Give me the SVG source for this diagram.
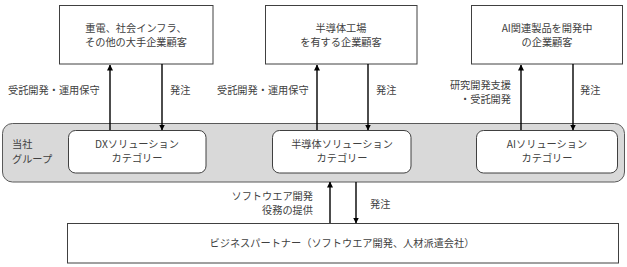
<svg xmlns="http://www.w3.org/2000/svg" width="627" height="267" viewBox="0 0 627 267">
<defs>
<style>
.t{font-family:"Noto Sans CJK JP","Liberation Sans",sans-serif;font-size:10.2px;fill:#404040}
.c{text-anchor:middle}
.e{text-anchor:end}
.box{fill:#fff;stroke:#404040;stroke-width:1}
.cat{fill:#fff;stroke:#404040;stroke-width:1}
.grp{fill:#d9d9d9;stroke:#595959;stroke-width:1}
.ln{stroke:#000;stroke-width:1.4;fill:none;marker-end:url(#ah)}
</style>
<marker id="ah" markerUnits="userSpaceOnUse" markerWidth="6" markerHeight="6" refX="5.5" refY="3" orient="auto">
<path d="M0,0 L6,3 L0,6 Z" fill="#000"/>
</marker>
</defs>
<rect width="627" height="267" fill="#fff"/>
<g id="group">
<rect class="grp" x="2.5" y="123.5" width="622" height="58.5" rx="10"/>
<text class="t" x="12" y="148">当社</text>
<text class="t" x="12" y="163">グループ</text>
</g>
<g id="cust1">
<rect class="box" x="59.5" y="5.5" width="153.5" height="58.5"/>
<text class="t c" x="136" y="32">重電、社会インフラ、</text>
<text class="t c" x="136" y="46">その他の大手企業顧客</text>
</g>
<g id="cust2">
<rect class="box" x="265.5" y="5.5" width="151.5" height="58.5"/>
<text class="t c" x="341" y="32">半導体工場</text>
<text class="t c" x="341" y="46">を有する企業顧客</text>
</g>
<g id="cust3">
<rect class="box" x="471.5" y="5.5" width="151" height="58.5"/>
<text class="t c" x="547" y="32">AI関連製品を開発中</text>
<text class="t c" x="547" y="46">の企業顧客</text>
</g>
<g id="dx">
<rect class="cat" x="68.5" y="130.5" width="137.5" height="42.5" rx="7"/>
<text class="t c" x="137" y="148">DXソリューション</text>
<text class="t c" x="137" y="162">カテゴリー</text>
</g>
<g id="semi">
<rect class="cat" x="272.5" y="130.5" width="138.5" height="42.5" rx="7"/>
<text class="t c" x="342" y="148">半導体ソリューション</text>
<text class="t c" x="342" y="162">カテゴリー</text>
</g>
<g id="ai">
<rect class="cat" x="476.5" y="130.5" width="141" height="42.5" rx="7"/>
<text class="t c" x="547" y="148">AIソリューション</text>
<text class="t c" x="547" y="162">カテゴリー</text>
</g>
<g id="partner">
<rect class="box" x="67.5" y="223.5" width="551" height="39.5"/>
<text class="t c" x="342" y="247">ビジネスパートナー（ソフトウエア開発、人材派遣会社）</text>
</g>
<g id="connectors">
<line class="ln" x1="110" y1="130" x2="110" y2="65"/>
<line class="ln" x1="162" y1="64" x2="162" y2="130"/>
<line class="ln" x1="317" y1="130" x2="317" y2="65"/>
<line class="ln" x1="368" y1="64" x2="368" y2="130"/>
<line class="ln" x1="521" y1="130" x2="521" y2="65"/>
<line class="ln" x1="573" y1="64" x2="573" y2="130"/>
<line class="ln" x1="330" y1="223" x2="330" y2="182"/>
<line class="ln" x1="356" y1="182" x2="356" y2="223"/>
<text class="t" x="8" y="94">受託開発・運用保守</text>
<text class="t" x="170" y="94">発注</text>
<text class="t" x="217" y="94">受託開発・運用保守</text>
<text class="t" x="376" y="94">発注</text>
<text class="t e" x="511" y="89">研究開発支援</text>
<text class="t e" x="511" y="103">・受託開発</text>
<text class="t" x="580" y="94">発注</text>
<text class="t e" x="313" y="200">ソフトウエア開発</text>
<text class="t e" x="313" y="214">役務の提供</text>
<text class="t" x="370" y="208">発注</text>
</g>
</svg>
